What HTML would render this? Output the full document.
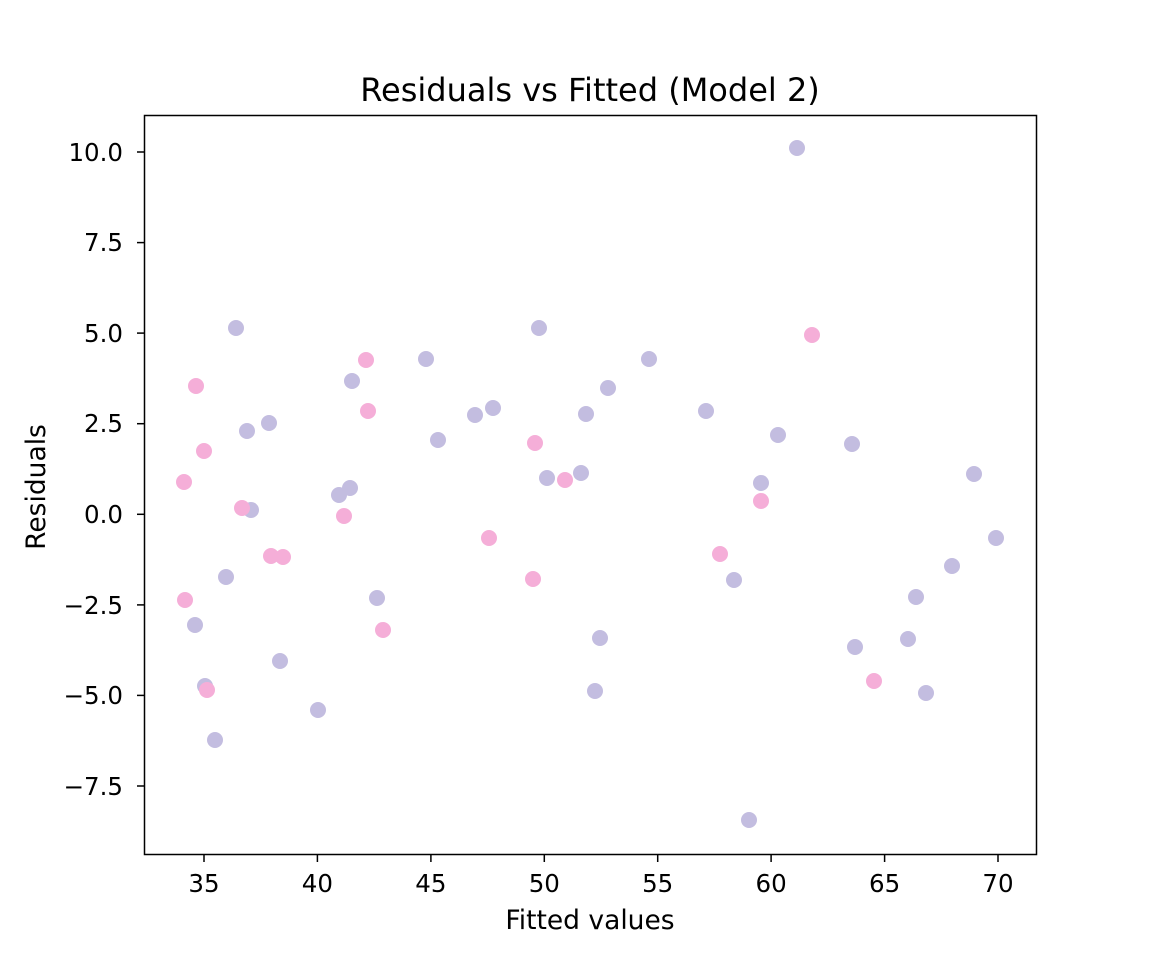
<!DOCTYPE html>
<html><head><style>body{margin:0;background:#fff}svg{display:block}text{font-family:"DejaVu Sans","Liberation Sans",sans-serif;fill:#000}</style></head><body>
<svg width="1152" height="960" xmlns="http://www.w3.org/2000/svg">
<rect width="1152" height="960" fill="#fff"/>
<g fill="#c3bde0">
<circle cx="797" cy="148" r="8"/><circle cx="236" cy="328" r="8"/><circle cx="539" cy="328" r="8"/><circle cx="426" cy="359" r="8"/><circle cx="649" cy="359" r="8"/><circle cx="352" cy="381" r="8"/><circle cx="608" cy="388" r="8"/><circle cx="493" cy="408" r="8"/><circle cx="475" cy="415" r="8"/><circle cx="706" cy="411" r="8"/><circle cx="586" cy="414" r="8"/><circle cx="269" cy="423" r="8"/><circle cx="247" cy="431" r="8"/><circle cx="438" cy="440" r="8"/><circle cx="778" cy="435" r="8"/><circle cx="852" cy="444" r="8"/><circle cx="581" cy="473" r="8"/><circle cx="974" cy="474" r="8"/><circle cx="547" cy="478" r="8"/><circle cx="761" cy="483" r="8"/><circle cx="339" cy="495" r="8"/><circle cx="350" cy="488" r="8"/><circle cx="251" cy="510" r="8"/><circle cx="996" cy="538" r="8"/><circle cx="226" cy="577" r="8"/><circle cx="952" cy="566" r="8"/><circle cx="734" cy="580" r="8"/><circle cx="377" cy="598" r="8"/><circle cx="916" cy="597" r="8"/><circle cx="195" cy="625" r="8"/><circle cx="600" cy="638" r="8"/><circle cx="908" cy="639" r="8"/><circle cx="855" cy="647" r="8"/><circle cx="280" cy="661" r="8"/><circle cx="205" cy="686" r="8"/><circle cx="595" cy="691" r="8"/><circle cx="926" cy="693" r="8"/><circle cx="318" cy="710" r="8"/><circle cx="215" cy="740" r="8"/><circle cx="749" cy="820" r="8"/>
</g>
<g fill="#f5aed8">
<circle cx="196" cy="386" r="8"/><circle cx="366" cy="360" r="8"/><circle cx="368" cy="411" r="8"/><circle cx="204" cy="451" r="8"/><circle cx="535" cy="443" r="8"/><circle cx="812" cy="335" r="8"/><circle cx="184" cy="482" r="8"/><circle cx="565" cy="480" r="8"/><circle cx="761" cy="501" r="8"/><circle cx="242" cy="508" r="8"/><circle cx="344" cy="516" r="8"/><circle cx="489" cy="538" r="8"/><circle cx="271" cy="556" r="8"/><circle cx="283" cy="557" r="8"/><circle cx="720" cy="554" r="8"/><circle cx="533" cy="579" r="8"/><circle cx="185" cy="600" r="8"/><circle cx="383" cy="630" r="8"/><circle cx="207" cy="690" r="8"/><circle cx="874" cy="681" r="8"/>
</g>
<rect x="144.5" y="115.5" width="892" height="739" fill="none" stroke="#000" stroke-width="1.5"/>
<g stroke="#000" stroke-width="1.5">
<line x1="204" y1="855" x2="204" y2="862"/><line x1="317.4" y1="855" x2="317.4" y2="862"/><line x1="430.9" y1="855" x2="430.9" y2="862"/><line x1="544.3" y1="855" x2="544.3" y2="862"/><line x1="657.7" y1="855" x2="657.7" y2="862"/><line x1="771.1" y1="855" x2="771.1" y2="862"/><line x1="884.6" y1="855" x2="884.6" y2="862"/><line x1="998" y1="855" x2="998" y2="862"/>
<line x1="137" y1="152" x2="144" y2="152"/><line x1="137" y1="242.6" x2="144" y2="242.6"/><line x1="137" y1="333.1" x2="144" y2="333.1"/><line x1="137" y1="423.7" x2="144" y2="423.7"/><line x1="137" y1="514.3" x2="144" y2="514.3"/><line x1="137" y1="604.9" x2="144" y2="604.9"/><line x1="137" y1="695.4" x2="144" y2="695.4"/><line x1="137" y1="786" x2="144" y2="786"/>
</g>
<g font-size="24.5" text-anchor="middle">
<text x="204" y="892">35</text><text x="317.4" y="892">40</text><text x="430.9" y="892">45</text><text x="544.3" y="892">50</text><text x="657.7" y="892">55</text><text x="771.1" y="892">60</text><text x="884.6" y="892">65</text><text x="998" y="892">70</text>
</g>
<g font-size="24.5" text-anchor="end">
<text x="123" y="161">10.0</text><text x="123" y="251">7.5</text><text x="123" y="342">5.0</text><text x="123" y="432">2.5</text><text x="123" y="523">0.0</text><text x="123" y="614">−2.5</text><text x="123" y="704">−5.0</text><text x="123" y="795">−7.5</text>
</g>
<text x="590" y="929" font-size="26.5" text-anchor="middle">Fitted values</text>
<text transform="translate(45,487) rotate(-90)" font-size="26.5" text-anchor="middle">Residuals</text>
<text x="590" y="101" font-size="32" text-anchor="middle">Residuals vs Fitted (Model 2)</text>
</svg>
</body></html>
